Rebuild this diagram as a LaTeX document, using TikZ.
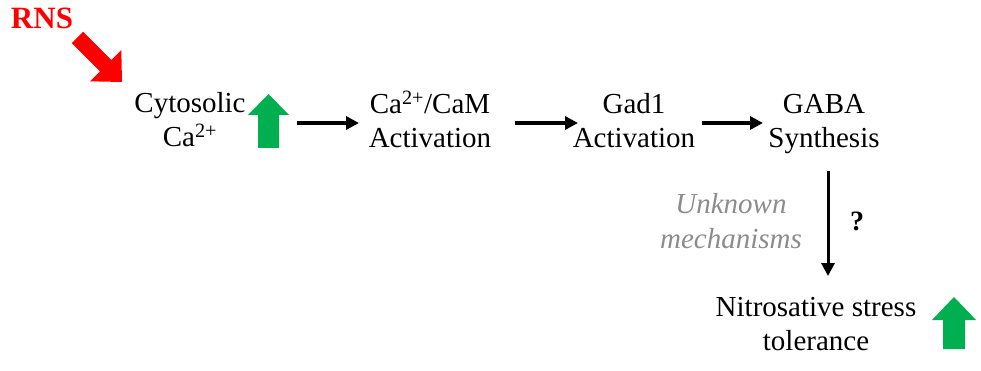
\documentclass[tikz,border=0pt]{standalone}
\usepackage{fontspec}
\setmainfont{Liberation Serif}
\usetikzlibrary{arrows.meta}
\begin{document}
\begin{tikzpicture}[x=1pt,y=-1pt,
  lbl/.style={inner sep=0pt,align=center,anchor=base,font=\fontsize{29}{34}\selectfont},
  arr/.style={line width=3.6pt,-{Triangle[length=13pt,width=13pt]}}]
\definecolor{gup}{HTML}{00B050}
\definecolor{rns}{HTML}{FF0000}
\definecolor{grey}{HTML}{8C8C8C}
\useasboundingbox (0,0) rectangle (981,371);
% labels (anchor = baseline of the last line)
\node[lbl,text=rns,font=\fontsize{31}{34}\selectfont\bfseries] (rnsl) at (42,28.5) {RNS};
\node[lbl] (cyt) at (190,147) {Cytosolic\\Ca\textsuperscript{2+}};
\node[lbl] (cam) at (430,148) {Ca\textsuperscript{2+}/CaM\\Activation};
\node[lbl] (gad) at (634,148) {Gad1\\Activation};
\node[lbl] (gaba) at (824,148) {GABA\\Synthesis};
\node[lbl,text=grey,font=\fontsize{29}{35}\selectfont\itshape] (unk) at (731,248) {Unknown\\mechanisms};
\node[lbl,font=\fontsize{28}{32}\selectfont\bfseries] (q) at (857,230) {?};
\node[lbl] (nst) at (816,350) {Nitrosative stress\\tolerance};
% block arrows
\fill[rns] (71.8,43.2) -- (100.0,71.4) -- (90.2,81.3) -- (122,82) -- (121.3,50.2) -- (111.4,60.0) -- (83.2,31.8) -- cycle;
\fill[gup] (258,148) -- (258,115) -- (248,115) -- (268.5,94) -- (289,115) -- (279,115) -- (279,148) -- cycle;
\fill[gup] (943,349) -- (943,320) -- (932,320) -- (954,297) -- (976,320) -- (965,320) -- (965,349) -- cycle;
% connector ends
\coordinate (a1s) at (297,123); \coordinate (a1e) at (359,123);
\coordinate (a2s) at (515,123); \coordinate (a2e) at (578,123);
\coordinate (a3s) at (702,123); \coordinate (a3e) at (763,123);
\coordinate (a4s) at (828,171); \coordinate (a4e) at (828,276);
\draw[arr] (a1s) -- (a1e);
\draw[arr] (a2s) -- (a2e);
\draw[arr] (a3s) -- (a3e);
\draw[line width=3pt,-{Triangle[length=13pt,width=13pt]}] (a4s) -- (a4e);
\end{tikzpicture}
\end{document}
